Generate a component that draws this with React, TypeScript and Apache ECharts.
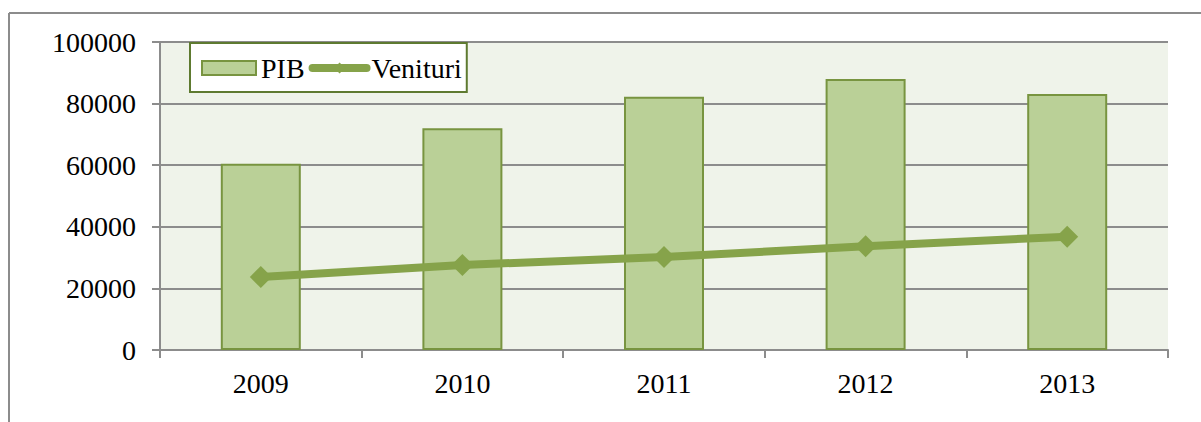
import React, { useEffect, useRef } from "react";
import * as echarts from "echarts";

const years = ["2009", "2010", "2011", "2012", "2013"];
const pib = [60500, 72000, 82200, 88000, 83100];
const venituri = [23700, 27600, 30200, 33700, 36800];

const FONT = "'Liberation Serif', 'DejaVu Serif', serif";

export default function App() {
  const ref = useRef<HTMLDivElement>(null);
  useEffect(() => {
    document.body.style.margin = "0";
    const chart = echarts.init(ref.current!, null, { renderer: "svg" });
    chart.setOption({
      animation: false,
      textStyle: { fontFamily: FONT },
      graphic: [
        { type: "line", shape: { x1: 9, y1: 13, x2: 1201, y2: 13 }, style: { stroke: "#8C8C8C", lineWidth: 2 } },
        { type: "line", shape: { x1: 9, y1: 13, x2: 9, y2: 422 }, style: { stroke: "#8C8C8C", lineWidth: 2 } },
      ],
      legend: {
        left: 190,
        top: 43,
        padding: [11, 5, 10, 11],
        backgroundColor: "#FFFFFF",
        borderColor: "#5E7A30",
        borderWidth: 2,
        borderRadius: 0,
        itemWidth: 54,
        itemHeight: 14,
        itemGap: 4,
        textStyle: { fontFamily: FONT, fontSize: 28, color: "#000" },
        data: [
          { name: "PIB", icon: "rect" },
          {
            name: "Venituri",
            lineStyle: { width: 8, color: "#86A34A", cap: "round" },
            itemStyle: { color: "#86A34A" },
          },
        ],
      },
      grid: {
        left: 160,
        right: 33,
        top: 42,
        bottom: 72,
        show: true,
        backgroundColor: "#EFF3EA",
        borderWidth: 0,
      },
      xAxis: {
        type: "category",
        data: years,
        axisLine: { lineStyle: { color: "#8C8C8C", width: 2 } },
        axisTick: { show: true, length: 8, lineStyle: { color: "#8C8C8C", width: 2 } },
        axisLabel: { fontFamily: FONT, fontSize: 28, color: "#000", margin: 19 },
      },
      yAxis: {
        type: "value",
        min: 0,
        max: 100000,
        interval: 20000,
        axisLine: { show: true, lineStyle: { color: "#8C8C8C", width: 2 } },
        axisTick: { show: true, length: 8, lineStyle: { color: "#8C8C8C", width: 2 } },
        splitLine: { lineStyle: { color: "#8C8C8C", width: 2 } },
        axisLabel: {
          fontFamily: FONT,
          fontSize: 28,
          color: "#000",
          margin: 24,
          formatter: (v: number) => String(v),
        },
      },
      series: [
        {
          name: "PIB",
          type: "bar",
          data: pib,
          barWidth: 80,
          itemStyle: { color: "#BAD097", borderColor: "#789440", borderWidth: 2 },
        },
        {
          name: "Venituri",
          type: "line",
          data: venituri,
          symbol: "diamond",
          symbolSize: 22,
          lineStyle: { color: "#86A34A", width: 8 },
          itemStyle: { color: "#86A34A" },
        },
      ],
    });
    return () => chart.dispose();
  }, []);
  return <div ref={ref} style={{ width: 1201, height: 422 }} />;
}
